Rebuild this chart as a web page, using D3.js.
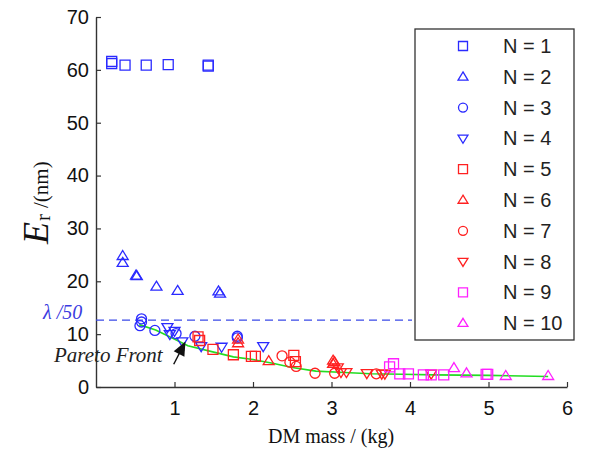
<!DOCTYPE html>
<html>
<head>
<meta charset="utf-8">
<script src="https://cdn.jsdelivr.net/npm/d3@7"></script>
<style>
  body { margin: 0; background: #fff; }
  svg { display: block; }
</style>
</head>
<body>
<script>
// ---- data ----
var seriesNames = ["N = 1", "N = 2", "N = 3", "N = 4", "N = 5", "N = 6", "N = 7", "N = 8", "N = 9", "N = 10"];
var seriesShapes = ["square", "up", "circle", "down", "square", "up", "circle", "down", "square", "up"];
var seriesColors = ["#2a2aff", "#2a2aff", "#2a2aff", "#2a2aff", "#ff2020", "#ff2020", "#ff2020", "#ff2020", "#ff20ff", "#ff20ff"];

var n1x = [0.2, 0.2, 0.37, 0.64, 0.92, 1.43, 1.43];
var n1y = [61.6, 61.2, 60.9, 60.9, 61.0, 60.9, 60.7];
var n2x = [0.34, 0.34, 0.51, 0.52, 0.77, 1.04, 1.56, 1.58];
var n2y = [24.8, 23.5, 21.1, 21.0, 19.0, 18.2, 18.1, 17.7];
var n3x = [0.58, 0.58, 0.56, 0.75, 1.02, 1.26, 1.8, 1.8];
var n3y = [12.9, 12.3, 11.6, 10.7, 10.1, 9.6, 9.6, 9.3];
var n4x = [0.91, 0.94, 1.0, 1.1, 1.34, 1.6, 2.13];
var n4y = [11.3, 10.0, 10.6, 8.6, 7.7, 7.6, 7.7];
var n5x = [1.3, 1.32, 1.49, 1.75, 1.98, 2.03, 2.52, 2.54];
var n5y = [9.5, 8.8, 7.1, 6.1, 5.8, 5.8, 6.0, 4.8];
var n6x = [1.81, 1.81, 2.2, 3.02, 3.02, 3.04];
var n6y = [9.0, 8.3, 4.9, 5.0, 4.4, 4.7];
var n7x = [2.37, 2.47, 2.55, 2.79, 3.04, 3.57];
var n7y = [5.9, 4.7, 3.9, 2.6, 2.6, 2.5];
var n8x = [3.08, 3.12, 3.19, 3.45, 3.64, 3.68, 4.27];
var n8y = [3.7, 2.8, 2.8, 2.6, 2.5, 2.5, 2.5];
var n9x = [3.74, 3.79, 3.87, 3.98, 4.17, 4.27, 4.43, 4.97, 4.99];
var n9y = [3.8, 4.4, 2.5, 2.5, 2.3, 2.3, 2.3, 2.4, 2.4];
var n10x = [4.56, 4.72, 5.22, 5.76];
var n10y = [3.6, 2.6, 2.1, 2.1];

var allX = [n1x, n2x, n3x, n4x, n5x, n6x, n7x, n8x, n9x, n10x];
var allY = [n1y, n2y, n3y, n4y, n5y, n6y, n7y, n8y, n9y, n10y];

// pareto front
var frontX = [0.55, 0.76, 1.01, 1.17, 1.5, 1.75, 2.0, 2.25, 2.5, 2.8, 3.1, 3.5, 3.9, 4.3, 5.0, 5.76];
var frontY = [11.8, 10.8, 9.0, 7.8, 6.6, 5.7, 5.2, 4.5, 3.7, 3.0, 2.8, 2.5, 2.4, 2.3, 2.2, 2.0];

var xTicks = [1, 2, 3, 4, 5, 6];
var yTicks = [0, 10, 20, 30, 40, 50, 60, 70];
var lambdaLimit = 12.66;

var width = 600, height = 452;

var svg = d3.select("body").append("svg")
  .attr("width", width)
  .attr("height", height);

var x = d3.scaleLinear().domain([0, 6]).range([96, 567]);
var y = d3.scaleLinear().domain([0, 70]).range([387, 17]);

var axisColor = "#333";

// axes, MATLAB style inward ticks
var xAxis = svg.append("g")
  .attr("transform", "translate(0," + y(0) + ")")
  .call(d3.axisBottom(x).tickValues(xTicks).tickFormat(d3.format("d")).tickSizeInner(-5).tickSizeOuter(0).tickPadding(10));
var yAxis = svg.append("g")
  .attr("transform", "translate(" + x(0) + ",0)")
  .call(d3.axisLeft(y).tickValues(yTicks).tickSizeInner(-5).tickSizeOuter(0).tickPadding(7));

[xAxis, yAxis].forEach(function(g) {
  g.select(".domain").attr("stroke", axisColor).attr("stroke-width", 1.4);
  g.selectAll(".tick line").attr("stroke", axisColor).attr("stroke-width", 1.2);
  g.selectAll(".tick text")
    .attr("fill", "#111")
    .style("font-family", "'Liberation Sans', Arial, sans-serif")
    .style("font-size", "20px");
});
xAxis.selectAll(".tick text").attr("dy", "0.9em");

// λ/50 line
svg.append("line")
  .attr("x1", x(0)).attr("x2", 412)
  .attr("y1", y(lambdaLimit)).attr("y2", y(lambdaLimit))
  .attr("stroke", "#3a4ae8")
  .attr("stroke-width", 1.3)
  .attr("stroke-dasharray", "8,5");

svg.append("text")
  .attr("x", 43).attr("y", y(lambdaLimit) - 1)
  .attr("fill", "#3a3ae0")
  .style("font-family", "'Liberation Serif', 'Times New Roman', serif")
  .style("font-style", "italic")
  .style("font-size", "20px")
  .text("λ /50");

// marker shapes
function shapePath(type, s) {
  if (type == "square") return d3.symbol(d3.symbolSquare, s * s)();
  if (type == "circle") {
    var r = s / 2;
    return "M" + r + ",0A" + r + "," + r + " 0 1,1 " + (-r) + ",0A" + r + "," + r + " 0 1,1 " + r + ",0Z";
  }
  var h = s * 0.9, w = s * 0.55;
  if (type == "up") return "M0," + (-h * 0.6) + "L" + w + "," + (h * 0.4) + "L" + (-w) + "," + (h * 0.4) + "Z";
  return "M0," + (h * 0.6) + "L" + w + "," + (-h * 0.4) + "L" + (-w) + "," + (-h * 0.4) + "Z";
}

// pareto front line (drawn under the markers)
var frontData = frontX.map(function(v, i) { return [v, frontY[i]]; });
svg.append("path")
  .datum(frontData)
  .attr("fill", "none")
  .attr("stroke", "#22dd22")
  .attr("stroke-width", 1.6)
  .attr("d", d3.line().x(function(d) { return x(d[0]); }).y(function(d) { return y(d[1]); }));

// scatter
seriesNames.forEach(function(name, i) {
  var pts = allX[i].map(function(v, j) { return { x: v, y: allY[i][j] }; });
  svg.append("g").selectAll("path")
    .data(pts)
    .enter().append("path")
    .attr("transform", function(d) { return "translate(" + x(d.x) + "," + y(d.y) + ")"; })
    .attr("d", shapePath(seriesShapes[i], 10))
    .attr("fill", "none")
    .attr("stroke", seriesColors[i])
    .attr("stroke-width", 1.3);
});

// pareto annotation
svg.append("text")
  .attr("x", 54).attr("y", 362)
  .attr("fill", "#222")
  .style("font-family", "'Liberation Serif', 'Times New Roman', serif")
  .style("font-style", "italic")
  .style("font-size", "21px")
  .text("Pareto Front");

var tip = [x(1.14), y(8.6)], tail = [x(0.99), y(4.3)];
var ang = Math.atan2(tip[1] - tail[1], tip[0] - tail[0]);
svg.append("line")
  .attr("x1", tail[0]).attr("y1", tail[1])
  .attr("x2", tip[0] - 10 * Math.cos(ang)).attr("y2", tip[1] - 10 * Math.sin(ang))
  .attr("stroke", "#111").attr("stroke-width", 1.4);
var hl = 14, hw = 6;
var bx = tip[0] - hl * Math.cos(ang), by = tip[1] - hl * Math.sin(ang);
svg.append("path")
  .attr("d", "M" + tip[0] + "," + tip[1] +
    "L" + (bx + hw * Math.sin(ang)) + "," + (by - hw * Math.cos(ang)) +
    "L" + (bx - hw * Math.sin(ang)) + "," + (by + hw * Math.cos(ang)) + "Z")
  .attr("fill", "#111");

// legend
var legend = svg.append("g");
legend.append("rect")
  .attr("x", 415).attr("y", 29)
  .attr("width", 159).attr("height", 311)
  .attr("fill", "#fff")
  .attr("stroke", axisColor)
  .attr("stroke-width", 1.3);

seriesNames.forEach(function(name, i) {
  var ly = 46 + i * 30.8;
  legend.append("path")
    .attr("transform", "translate(463," + ly + ")")
    .attr("d", shapePath(seriesShapes[i], 9))
    .attr("fill", "none")
    .attr("stroke", seriesColors[i])
    .attr("stroke-width", 1.3);
  legend.append("text")
    .attr("x", 503).attr("y", ly + 7)
    .attr("fill", "#222")
    .style("font-family", "'Liberation Sans', Arial, sans-serif")
    .style("font-size", "20px")
    .text(name);
});

// axis titles
svg.append("text")
  .attr("x", 331).attr("y", 443)
  .attr("text-anchor", "middle")
  .attr("fill", "#111")
  .style("font-family", "'Liberation Serif', 'Times New Roman', serif")
  .style("font-size", "20px")
  .text("DM mass / (kg)");

var yt = svg.append("text")
  .attr("transform", "translate(48,244) rotate(-90)")
  .attr("fill", "#111")
  .style("font-family", "'Liberation Serif', 'Times New Roman', serif");
yt.append("tspan").style("font-style", "italic").style("font-size", "36px").text("E");
yt.append("tspan").style("font-size", "21px").attr("dx", 1).attr("dy", 2).text("r");
yt.append("tspan").style("font-size", "21px").attr("dx", 6).attr("dy", -2).text("/(nm)");
</script>
</body>
</html>
